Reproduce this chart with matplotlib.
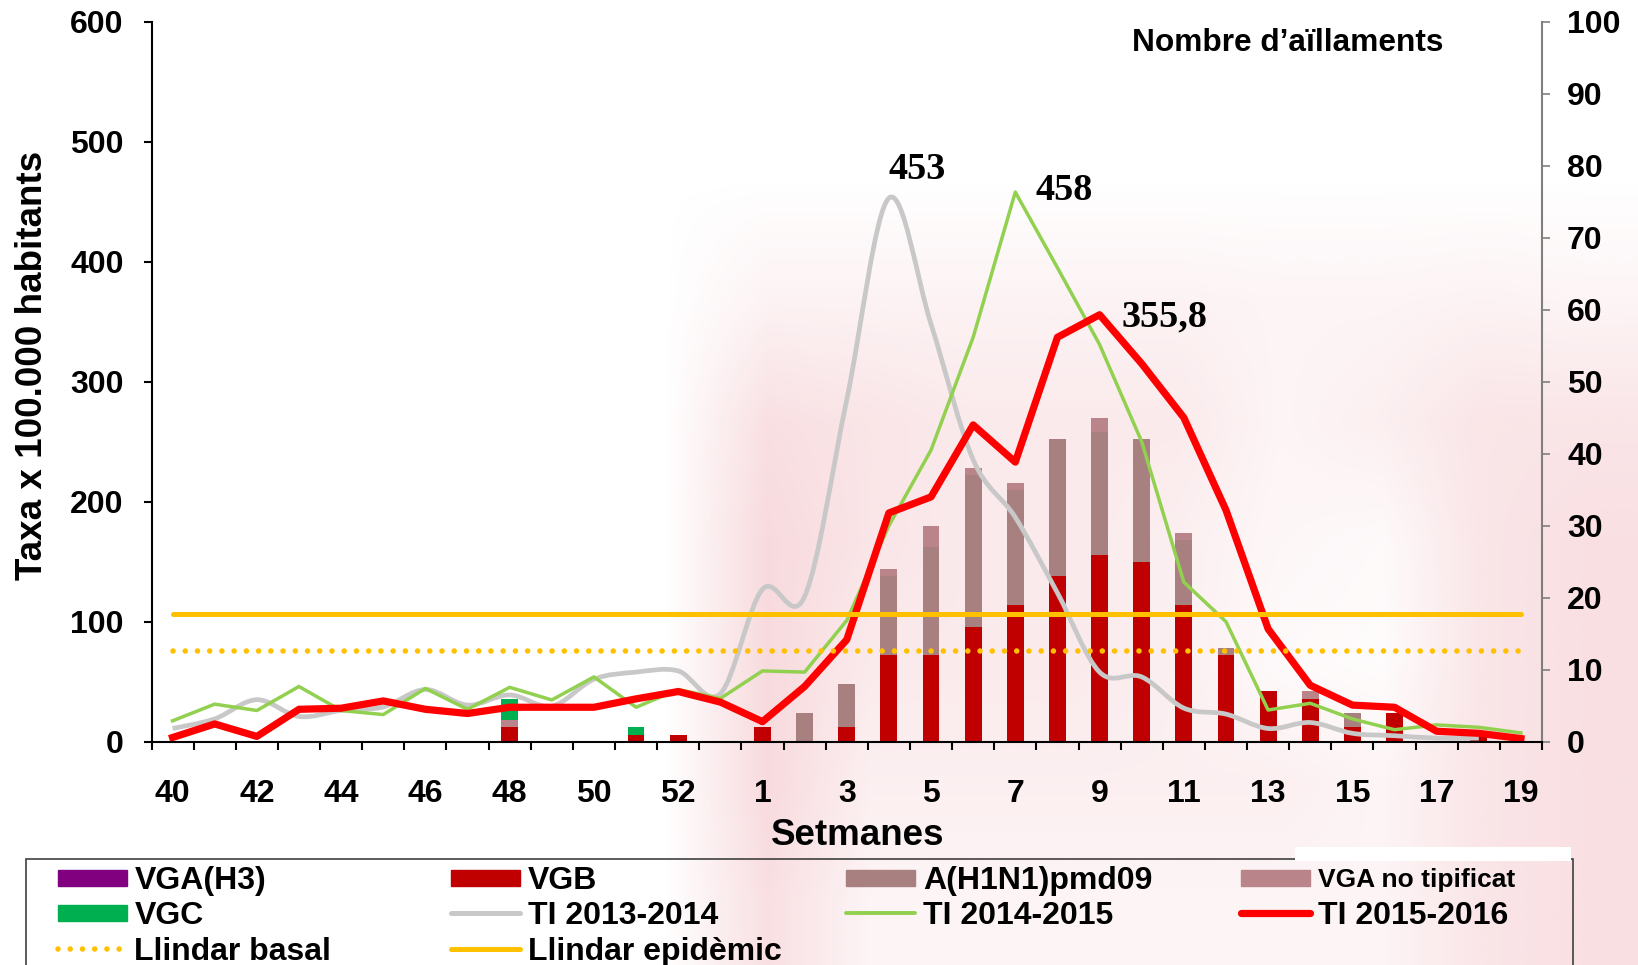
import matplotlib.pyplot as plt
import numpy as np
from matplotlib.path import Path
from matplotlib.patches import PathPatch, Rectangle
from matplotlib.lines import Line2D

plt.rcParams['font.family'] = ['Liberation Sans', 'DejaVu Sans']
plt.rcParams['font.weight'] = 'bold'

# weeks of the 2015-2016 season (2015 has a week 53)
WEEKS = list(range(40, 54)) + list(range(1, 20))

# incidence rate x 100.000 inhabitants (left axis)
TI_1314 = [11, 19, 35, 21, 26, 29, 43.5, 30.5, 39, 29.6, 52, 58, 59, 40,
           127, 121, 285, 453, 348, 235, 187, 124, 58, 54, 28, 23, 11, 16,
           7, 5, 3, 3, np.nan]
TI_1415 = [17.4, 31.3, 26, 46, 26, 22.6, 44.4, 27, 45.3, 34.8, 54, 28.7,
           43.5, 36, 59, 58, 101, 180, 243, 337, 458, 395, 331, 250, 133,
           100, 26.4, 32, 19, 10, 14, 12, 7.3]
TI_1516 = [3.5, 14.8, 4.4, 27, 27.9, 34, 27, 23.5, 28.7, 28.7, 28.7, 35.7,
           41.8, 33, 16.7, 46, 85, 190.6, 204, 264, 233, 337, 355.8, 315,
           270, 193, 94, 47, 30.5, 28.7, 8.7, 7, 2.6]
LLINDAR_BASAL = 75.8
LLINDAR_EPIDEMIC = 106.2

# number of isolates (right axis)
N = len(WEEKS)
VGA_H3 = [0] * N
VGB = [0, 0, 0, 0, 0, 0, 0, 0, 2, 0, 0, 1, 1, 0, 2, 0, 2, 12, 12, 16, 19,
       23, 26, 25, 19, 12, 7, 6, 2, 4, 0, 1, 0]
H1N1 = [0, 0, 0, 0, 0, 0, 0, 0, 0, 0, 0, 0, 0, 0, 0, 4, 6, 11, 15, 21, 16,
        19, 17, 17, 9, 1, 0, 0, 2, 0, 0, 0, 0]
VGA_NT = [0, 0, 0, 0, 0, 0, 0, 0, 1, 0, 0, 0, 0, 0, 0, 0, 0, 1, 3, 1, 1,
          0, 2, 0, 1, 0, 0, 1, 0, 0, 0, 0, 0]
VGC = [0, 0, 0, 0, 0, 0, 0, 0, 3, 0, 0, 1, 0, 0, 0, 0, 0, 0, 0, 0, 0,
       0, 0, 0, 0, 0, 0, 0, 0, 0, 0, 0, 0]

C_H3, C_VGB, C_H1N1, C_NT, C_VGC = '#800080', '#C00000', '#A88080', '#B9858A', '#00B050'
C_1314, C_1415, C_1516, C_LL = '#C8C8C8', '#92D050', '#FF0000', '#FFC000'

# faint pink watermark behind the chart (rough 8 x 16 grid of opacity)
WATERMARK = np.array([
    [0] * 16,
    [0] * 16,
    [0] * 7 + [0.12, 0.12, 0.12, 0.12, 0.12, 0.1, 0.1, 0.12, 0.1],
    [0] * 7 + [0.30, 0.25, 0.20, 0.20, 0.20, 0.10, 0.15, 0.25, 0.25],
    [0] * 7 + [0.35, 0.25, 0.20, 0.20, 0.15, 0.08, 0.05, 0.25, 0.30],
    [0] * 7 + [0.35, 0.20, 0.20, 0.20, 0.15, 0.05, 0.03, 0.25, 0.30],
    [0] * 7 + [0.35, 0.15, 0.15, 0.15, 0.15, 0.15, 0.10, 0.25, 0.30],
    [0] * 7 + [0.30, 0.10, 0.10, 0.10, 0.10, 0.10, 0.10, 0.25, 0.30],
])

W, H = 1638, 965
fig = plt.figure(figsize=(W / 100, H / 100), dpi=100)

bg = fig.add_axes([0, 0, 1, 1], zorder=-10)
rgba = np.zeros(WATERMARK.shape + (4,))
rgba[..., :3] = np.array([235, 150, 160]) / 255
rgba[..., 3] = WATERMARK
bg.imshow(rgba, extent=[0, 1, 0, 1], aspect='auto', interpolation='bilinear')
bg.axis('off')

ax = fig.add_axes([151.5 / W, 1 - 741.7 / H, (1542 - 151.5) / W, 720 / H])
ax2 = ax.twinx()
ax.set_zorder(ax2.get_zorder() + 1)
ax.patch.set_visible(False)
ax2.patch.set_visible(False)

x = np.arange(N)

# stacked isolates
bottom = np.zeros(N)
for vals, col in [(VGB, C_VGB), (H1N1, C_H1N1), (VGA_NT, C_NT), (VGC, C_VGC), (VGA_H3, C_H3)]:
    ax2.bar(x, vals, width=0.4, bottom=bottom, color=col, linewidth=0)
    bottom += np.array(vals)


def smooth_path(xs, ys):
    # excel-like smoothed line: catmull-rom drawn as cubic bezier
    ok = ~np.isnan(ys)
    p = np.column_stack([xs[ok], ys[ok]])
    verts, codes = [p[0]], [Path.MOVETO]
    for i in range(len(p) - 1):
        p0 = p[i - 1] if i > 0 else p[i]
        p3 = p[i + 2] if i + 2 < len(p) else p[i + 1]
        verts += [p[i] + (p[i + 1] - p0) / 6, p[i + 1] - (p3 - p[i]) / 6, p[i + 1]]
        codes += [Path.CURVE4] * 3
    return Path(verts, codes)


ax.add_patch(PathPatch(smooth_path(x, np.array(TI_1314, float)), fill=False,
                       edgecolor=C_1314, lw=3.4))
ax.plot(x, TI_1415, color=C_1415, lw=2.5)
ax.plot(x, TI_1516, color=C_1516, lw=5.2)
ax.plot([x[0], x[-1]], [LLINDAR_EPIDEMIC] * 2, color=C_LL, lw=3.6, solid_capstyle='round')
ax.plot([x[0], x[-1]], [LLINDAR_BASAL] * 2, color=C_LL, lw=4,
        linestyle=(0, (0.001, 2.2)), dash_capstyle='round')

serif = dict(family=['Liberation Serif'], fontweight='bold', fontsize=27.5,
             ha='center', va='center', textcoords='offset pixels')
ax.annotate('453', xy=(17, 453), xytext=(28, 29), **serif)
ax.annotate('458', xy=(20, 458), xytext=(49, 2), **serif)
ax.annotate('355,8', xy=(22, 355.8), xytext=(65, -2), **serif)

ax.set_xlim(-0.5, N - 0.5)
ax.set_ylim(0, 600)
ax2.set_ylim(0, 100)
ax.set_yticks(range(0, 601, 100))
ax2.set_yticks(range(0, 101, 10))
ax.set_xticks(x[::2])
ax.set_xticklabels([str(w) for w in WEEKS[::2]])
ax.set_xticks(np.arange(-0.5, N, 1), minor=True)

for s in ['top', 'right']:
    ax.spines[s].set_visible(False)
for s in ['top', 'left', 'bottom']:
    ax2.spines[s].set_visible(False)
ax.spines['left'].set_linewidth(1.5)
ax.spines['bottom'].set_linewidth(1.5)
ax2.spines['right'].set_linewidth(1.5)
ax2.spines['right'].set_color('#7F7F7F')

ax.tick_params(axis='x', which='major', length=0, pad=27, labelsize=23)
ax.tick_params(axis='x', which='minor', length=6, width=1.5)
ax.tick_params(axis='y', length=6, width=1.5, pad=14, labelsize=23)
ax2.tick_params(axis='y', length=6, width=1.2, color='#7F7F7F', pad=12, labelsize=23)

ax.set_ylabel('Taxa x 100.000 habitants', fontsize=26.5, fontweight='bold')
ax.yaxis.set_label_coords(-0.0733, 0.523)
ax.set_xlabel('Setmanes', fontsize=26.5, fontweight='bold')
ax.xaxis.set_label_coords(0.508, -0.106)
ax.text(0.8173, 0.971, 'Nombre d\u2019aïllaments', transform=ax.transAxes,
        ha='center', va='center', fontsize=22.8, fontweight='bold')

# legend box (drawn by hand so the four columns line up as in the original)
fx = lambda px: px / W
fy = lambda py: 1 - py / H
fig.add_artist(Rectangle((fx(26), fy(1000)), fx(1573) - fx(26), fy(858.7) - fy(1000),
                         transform=fig.transFigure, facecolor='none',
                         edgecolor='#404040', lw=1.2))
fig.add_artist(Rectangle((fx(1295), fy(861)), fx(1571) - fx(1295), fy(847) - fy(861),
                         transform=fig.transFigure, facecolor='white', edgecolor='none'))

COLS = [57.5, 451, 846, 1241]
ROWS = [877.5, 913, 948.5]
entries = [
    (0, 0, 'VGA(H3)', dict(kind='bar', color=C_H3)),
    (1, 0, 'VGB', dict(kind='bar', color=C_VGB)),
    (2, 0, 'A(H1N1)pmd09', dict(kind='bar', color=C_H1N1)),
    (3, 0, 'VGA no tipificat', dict(kind='bar', color=C_NT)),
    (0, 1, 'VGC', dict(kind='bar', color=C_VGC)),
    (1, 1, 'TI 2013-2014', dict(kind='line', color=C_1314, lw=3.6)),
    (2, 1, 'TI 2014-2015', dict(kind='line', color=C_1415, lw=2.8)),
    (3, 1, 'TI 2015-2016', dict(kind='line', color=C_1516, lw=5.2)),
    (0, 2, 'Llindar basal', dict(kind='dot', color=C_LL, lw=4)),
    (1, 2, 'Llindar epidèmic', dict(kind='line', color=C_LL, lw=3.6)),
]
for c, r, label, st in entries:
    x0, yc = COLS[c], ROWS[r]
    if st['kind'] == 'bar':
        fig.add_artist(Rectangle((fx(x0), fy(yc + 8)), fx(69), 16 / H,
                                 transform=fig.transFigure, color=st['color']))
    else:
        ls = (0, (0.001, 2.2)) if st['kind'] == 'dot' else '-'
        fig.add_artist(Line2D([fx(x0), fx(x0 + 69)], [fy(yc), fy(yc)],
                              transform=fig.transFigure, color=st['color'], lw=st['lw'],
                              linestyle=ls, solid_capstyle='round', dash_capstyle='round'))
    size = 19 if label == 'VGA no tipificat' else 23
    fig.text(fx(x0 + 77), fy(yc), label, ha='left', va='center_baseline',
             fontsize=size, fontweight='bold')

fig.savefig('out.png', dpi=100, facecolor='white')
